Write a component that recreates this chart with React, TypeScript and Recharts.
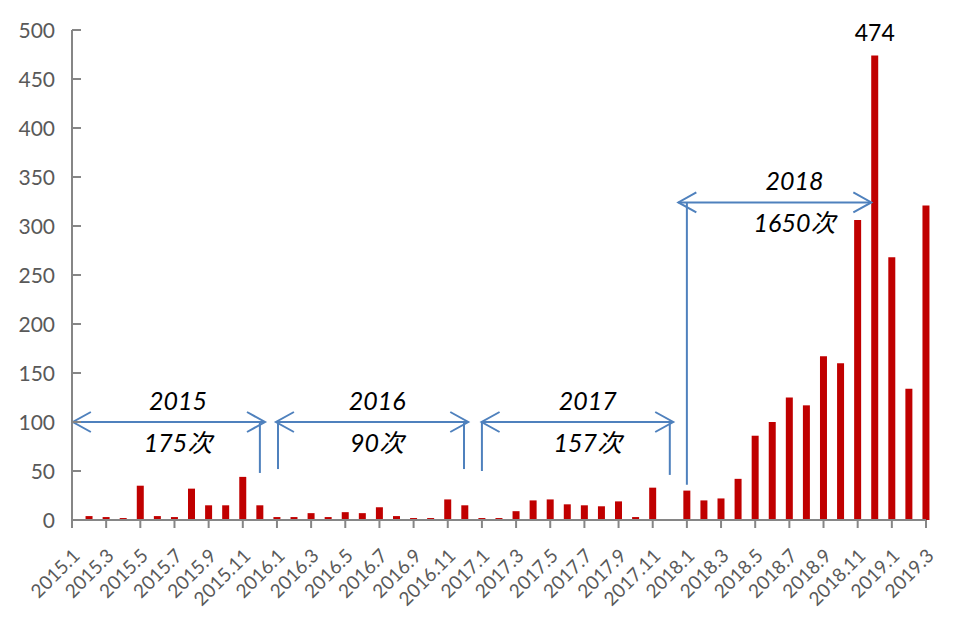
import { BarChart, Bar, XAxis, YAxis, ReferenceLine, ReferenceDot, LabelList } from "recharts"

// monthly counts, 2015.1 – 2019.3
const MONTHS = [
  "2015.1", "2015.2", "2015.3", "2015.4", "2015.5", "2015.6", "2015.7", "2015.8", "2015.9", "2015.10", "2015.11", "2015.12",
  "2016.1", "2016.2", "2016.3", "2016.4", "2016.5", "2016.6", "2016.7", "2016.8", "2016.9", "2016.10", "2016.11", "2016.12",
  "2017.1", "2017.2", "2017.3", "2017.4", "2017.5", "2017.6", "2017.7", "2017.8", "2017.9", "2017.10", "2017.11", "2017.12",
  "2018.1", "2018.2", "2018.3", "2018.4", "2018.5", "2018.6", "2018.7", "2018.8", "2018.9", "2018.10", "2018.11", "2018.12",
  "2019.1", "2019.2", "2019.3",
]

const COUNTS = [
  0, 4, 3, 2, 35, 4, 3, 32, 15, 15, 44, 15,
  3, 3, 7, 3, 8, 7, 13, 4, 2, 2, 21, 15,
  2, 2, 9, 20, 21, 16, 15, 14, 19, 3, 33, 0,
  30, 20, 22, 42, 86, 100, 125, 117, 167, 160, 306, 474,
  268, 134, 321,
]

const Y_TICKS = [0, 50, 100, 150, 200, 250, 300, 350, 400, 450, 500]
const X_TICKS = [0, 2, 4, 6, 8, 10, 12, 14, 16, 18, 20, 22, 24, 26, 28, 30, 32, 34, 36, 38, 40, 42, 44, 46, 48, 50]

const PERIOD_YEARS = ["2015", "2016", "2017", "2018"]
const PERIOD_TOTALS = ["175次", "90次", "157次", "1650次"]

// annotation geometry in chart units (x = month index, y = count)
const ARROW_SPANS = [
  { from: 0.05, to: 11.3, level: 100, textX: 6.2 },
  { from: 11.94, to: 23.2, level: 100, textX: 17.86 },
  { from: 23.98, to: 35.2, level: 100, textX: 30.2 },
  { from: 35.5, to: 46.8, level: 324, textX: 42.3 },
]

const BRACKETS = [
  { x: 11.0, top: 100, bottom: 48 },
  { x: 12.06, top: 100, bottom: 52 },
  { x: 22.95, top: 100, bottom: 52 },
  { x: 24.0, top: 100, bottom: 50 },
  { x: 35.0, top: 100, bottom: 46 },
  { x: 36.0, top: 324, bottom: 36 },
]

const data = MONTHS.map((month, i) => ({ idx: i, month, count: COUNTS[i] }))

const AXIS = "#868686"
const LABEL = "#595959"
const BLUE = "#4f81bd"
const FONT = "Lato, 'Noto Sans CJK SC', sans-serif"

const MAX = Math.max(...COUNTS)

function MonthTick(props: any) {
  const { x, y, payload } = props
  const ax = x + 9
  const ay = y + 29
  return (
    <text
      x={ax}
      y={ay}
      textAnchor="end"
      transform={`rotate(-45 ${ax} ${ay})`}
      fontFamily={FONT}
      fontSize={19}
      fill={LABEL}
    >
      {MONTHS[payload.value]}
    </text>
  )
}

function ValueTick(props: any) {
  const { x, y, payload } = props
  return (
    <g>
      <line x1={x + 17} x2={x + 26} y1={y} y2={y} stroke={AXIS} strokeWidth={2} />
      <text x={x} y={y} dy="0.36em" textAnchor="end" fontFamily={FONT} fontSize={21} fill={LABEL}>
        {payload.value}
      </text>
    </g>
  )
}

function DoubleArrow(props: any) {
  const { x1, y1, x2 } = props
  const l = Math.min(x1, x2)
  const r = Math.max(x1, x2)
  return (
    <g fill="none" stroke={BLUE} strokeWidth={2}>
      <line x1={l} y1={y1} x2={r} y2={y1} />
      <polyline points={`${l + 18},${y1 - 10} ${l},${y1} ${l + 18},${y1 + 10}`} />
      <polyline points={`${r - 18},${y1 - 10} ${r},${y1} ${r - 18},${y1 + 10}`} />
    </g>
  )
}

function PeriodText(year: string, total: string) {
  return (p: any) => (
    <g fontFamily={FONT} fontSize={25} fontStyle="italic" fill="#000">
      <text x={p.cx} y={p.cy - 12} textAnchor="middle">{year}</text>
      <text x={p.cx} y={p.cy + 30} textAnchor="middle">{total}</text>
    </g>
  )
}

function PeakLabel(props: any) {
  const { x, y, width, value } = props
  if (value !== MAX) return null
  return (
    <text x={x + width / 2} y={y - 14} textAnchor="middle" fontFamily={FONT} fontSize={23} fill="#000">
      {value}
    </text>
  )
}

export default function App() {
  return (
    <div style={{ position: "absolute", left: 0, top: 0 }}>
      <BarChart width={960} height={618} data={data} margin={{ top: 30, right: 34, bottom: 0, left: 0 }}>
        <XAxis
          type="number"
          dataKey="idx"
          domain={[0, 50]}
          ticks={X_TICKS}
          interval={0}
          height={98}
          tickSize={8}
          tickMargin={0}
          axisLine={{ stroke: AXIS, strokeWidth: 2 }}
          tickLine={{ stroke: AXIS, strokeWidth: 2 }}
          tick={<MonthTick />}
        />
        <YAxis
          type="number"
          domain={[0, 500]}
          ticks={Y_TICKS}
          interval={0}
          width={72}
          tickSize={0}
          tickMargin={17}
          tickLine={false}
          axisLine={{ stroke: AXIS, strokeWidth: 2 }}
          tick={<ValueTick />}
        />
        <Bar dataKey="count" fill="#c00000" barSize={7} isAnimationActive={false}>
          <LabelList dataKey="count" content={<PeakLabel />} />
        </Bar>
        {ARROW_SPANS.map((a, i) => (
          <ReferenceLine
            key={`arrow-${i}`}
            segment={[{ x: a.from, y: a.level }, { x: a.to, y: a.level }]}
            shape={DoubleArrow}
          />
        ))}
        {BRACKETS.map((b, i) => (
          <ReferenceLine
            key={`bracket-${i}`}
            segment={[{ x: b.x, y: b.top }, { x: b.x, y: b.bottom }]}
            stroke={BLUE}
            strokeWidth={2}
          />
        ))}
        {ARROW_SPANS.map((a, i) => (
          <ReferenceDot
            key={`text-${i}`}
            x={a.textX}
            y={a.level}
            r={0}
            shape={PeriodText(PERIOD_YEARS[i], PERIOD_TOTALS[i])}
          />
        ))}
      </BarChart>
    </div>
  )
}
